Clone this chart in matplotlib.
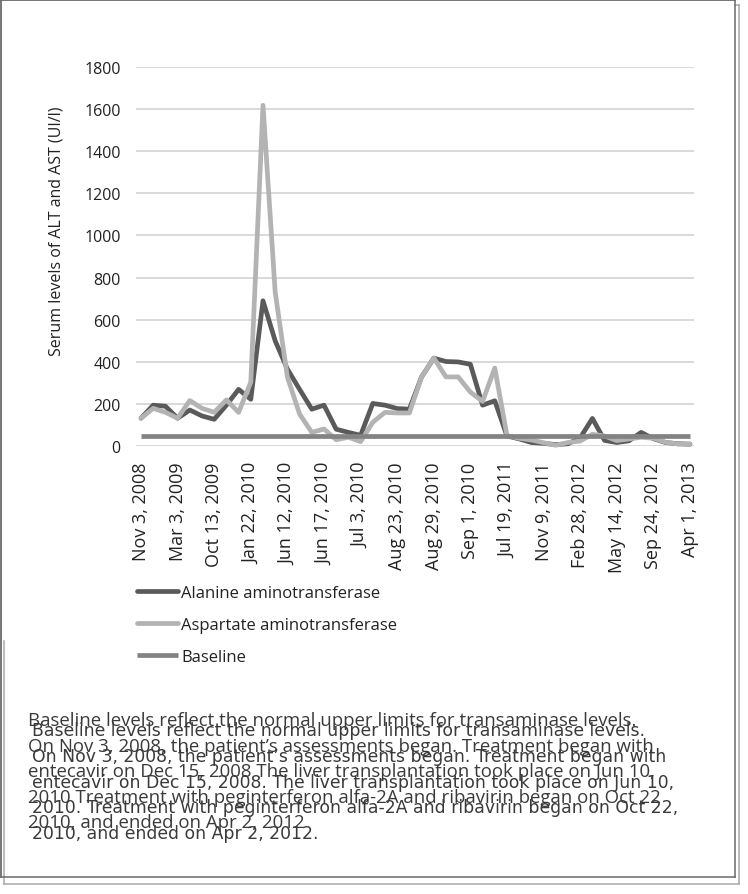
import matplotlib
matplotlib.use("Agg")
import matplotlib.pyplot as plt
from matplotlib.lines import Line2D
import numpy as np

# ---------------- data ----------------
tick_labels = ["Nov 3, 2008", "Mar 3, 2009", "Oct 13, 2009", "Jan 22, 2010", "Jun 12, 2010",
               "Jun 17, 2010", "Jul 3, 2010", "Aug 23, 2010", "Aug 29, 2010", "Sep 1, 2010",
               "Jul 19, 2011", "Nov 9, 2011", "Feb 28, 2012", "May 14, 2012", "Sep 24, 2012",
               "Apr 1, 2013"]
tick_step = 3  # one label every 3 assessments

alt = [133, 195, 190, 133, 172, 144, 128, 195, 270, 223,
       690, 500, 366, 270, 176, 195, 81, 66, 52, 203,
       195, 179, 176, 329, 418, 402, 400, 389, 195, 216,
       49, 35, 18, 14, 8, 12, 40, 132, 28, 18,
       26, 66, 36, 18, 12, 10]
ast = [133, 180, 161, 133, 217, 180, 161, 220, 161, 304,
       1617, 731, 328, 153, 66, 82, 31, 43, 22, 114,
       161, 158, 158, 329, 419, 329, 329, 257, 213, 371,
       51, 38, 30, 17, 5, 18, 25, 57, 49, 27,
       35, 43, 38, 19, 11, 11]
baseline_level = 47
baseline = np.full(len(alt), baseline_level)

series_names = ["Alanine aminotransferase", "Aspartate aminotransferase", "Baseline"]
y_label = "Serum levels of ALT and AST (UI/l)"

caption_a = ["Baseline levels reflect the normal upper limits for transaminase levels.",
             "On Nov 3, 2008, the patient\u2019s assessments began. Treatment began with",
             "entecavir on Dec 15, 2008 The liver transplantation took place on Jun 10,",
             "2010 Treatment with peginterferon alfa-2A and ribavirin began on Oct 22",
             "2010, and ended on Apr 2, 2012"]
caption_b = ["Baseline levels reflect the normal upper limits for transaminase levels.",
             "On Nov 3, 2008, the patient\u2019s assessments began. Treatment began with",
             "entecavir on Dec 15, 2008. The liver transplantation took place on Jun 10,",
             "2010. Treatment with peginterferon alfa-2A and ribavirin began on Oct 22,",
             "2010, and ended on Apr 2, 2012."]

# ---------------- figure ----------------
W, H = 748, 895
plt.rcParams['font.family'] = ['Open Sans', 'DejaVu Sans']
fig = plt.figure(figsize=(W / 100, H / 100), dpi=100)
fig.patch.set_facecolor('white')

def fx(x):
    return x / W

def fy(y):
    return 1 - y / H

ax = fig.add_axes([fx(136), fy(447.3), (694 - 136) / W, (447.3 - 67.7) / H])
x = np.arange(len(alt))
c_alt, c_ast, c_base = '#5a5a5a', '#b3b3b3', '#838383'
kw = dict(lw=3.4, solid_capstyle='round', solid_joinstyle='round', clip_on=False)
ax.plot(x, alt, color=c_alt, label=series_names[0], **kw)
ax.plot(x, ast, color=c_ast, label=series_names[1], **kw)
ax.plot(x, baseline, color=c_base, label=series_names[2], lw=3.4, solid_capstyle='butt', clip_on=False)

ax.set_xlim(-0.41, len(alt) - 1 + 0.33)
ax.set_ylim(0, 1800)
ax.set_yticks(np.arange(0, 1801, 200))
ax.grid(axis='y', color='#d9d9d9', lw=1.4)
ax.set_axisbelow(True)
for s in ax.spines.values():
    s.set_visible(False)
ax.set_xticks(x[::tick_step])
ax.set_xticklabels(tick_labels, rotation=90)
ax.tick_params(axis='both', length=0, labelcolor='#222222')
ax.tick_params(axis='y', pad=11, labelsize=11.5)
ax.tick_params(axis='x', pad=11, labelsize=13)

fig.text(fx(57), fy(231), y_label, rotation=90, ha='center', va='center',
         fontsize=11.5, color='#222222')

leg = fig.legend(loc='upper left', bbox_to_anchor=(fx(137), fy(586)), frameon=False,
                 fontsize=12, handlelength=2.45, handletextpad=0.2, labelspacing=0.95,
                 borderpad=0, borderaxespad=0)
for t in leg.get_texts():
    t.set_color('#222222')

# caption (doubled rendering as in the reference)
ya = [721, 747, 772, 798, 823]
yb = [731, 757, 783, 808, 834]
for line, yy in zip(caption_a, ya):
    fig.text(fx(28), fy(yy), line, ha='left', va='center', fontsize=13.4,
             color='#3a3a3a', family=['Open Sans', 'DejaVu Sans'])
for line, yy in zip(caption_b, yb):
    fig.text(fx(32), fy(yy), line, ha='left', va='center', fontsize=12.4,
             color='#3a3a3a', family=['DejaVu Sans'])

# frames
def seg(x0, y0, x1, y1, color, lw):
    fig.add_artist(Line2D([fx(x0), fx(x1)], [fy(y0), fy(y1)], transform=fig.transFigure,
                          color=color, lw=lw))

dark, light = '#6a6a6a', '#a8a8a8'
seg(4.3, 642, 4.3, 885, light, 1.1)
seg(4.3, 885, 739, 885, light, 1.1)
seg(739, 6, 739, 885, light, 1.1)
seg(735, 6, 739, 6, light, 1.1)
seg(0, 1, 735, 1, dark, 1.3)
seg(1, 1, 1, 878, dark, 1.3)
seg(735, 1, 735, 878, dark, 1.1)
seg(1, 878, 735, 878, dark, 1.1)

fig.savefig('out.png', dpi=100)
